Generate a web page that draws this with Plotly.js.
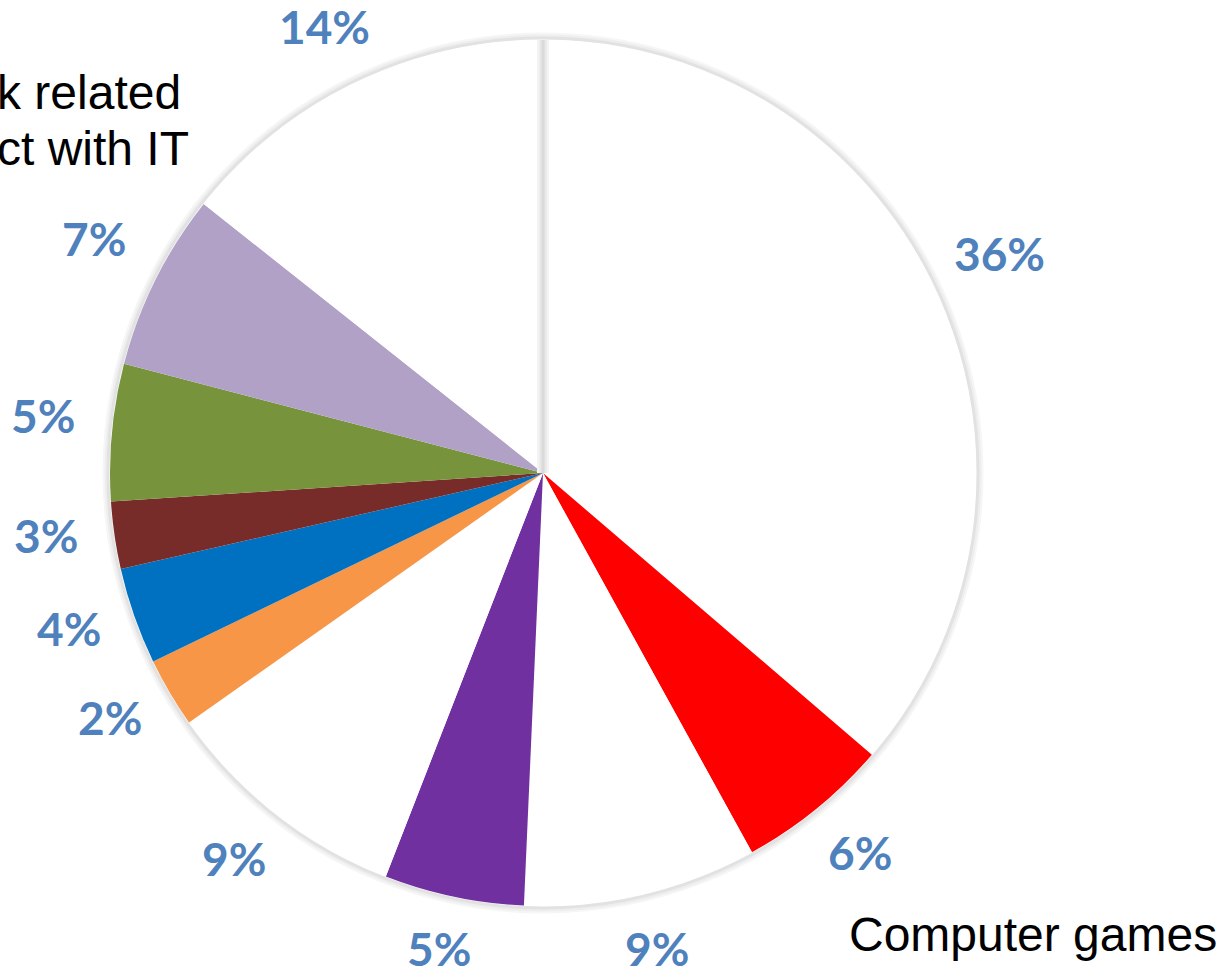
<!DOCTYPE html>
<html>
<head>
<meta charset="utf-8">
<script src="https://cdn.plot.ly/plotly-3.0.1.min.js"></script>
<style>
  html, body { margin: 0; padding: 0; background: #fff; }
  #chart { width: 1223px; height: 972px; }
</style>
</head>
<body>
<div id="chart"></div>
<script>
// slices, clockwise from 12 o'clock (sizes)
const categories = ['A', 'B', 'C', 'D', 'E', 'F', 'G', 'H', 'I', 'J', 'K'];
const sliceValues = [36.2, 5.7, 8.7, 5.2, 9.3, 2.6, 3.6, 2.5, 5.1, 6.6, 14.3];
const pctLabels = ['36%', '6%', '9%', '5%', '9%', '2%', '4%', '3%', '5%', '7%', '14%'];
const sliceColors = ['#FFFFFF', '#FF0000', '#FFFFFF', '#7030A0', '#FFFFFF', '#F79646',
                     '#0070C0', '#772C2A', '#77933C', '#B2A1C7', '#FFFFFF'];

const W = 1223, H = 972;
const cx = 543, cy = 473, R = 433;   // pie centre and radius in pixels
const labelDist = 502;

// percentage labels placed along the middle of each slice, kept inside the page
const total = sliceValues.reduce((a, b) => a + b, 0);
let cum = 0;
const pctAnnotations = sliceValues.map((v, i) => {
  const theta = 2 * Math.PI * (cum + v / 2) / total;
  cum += v;
  const px = cx + labelDist * Math.sin(theta);
  let py = cy - labelDist * Math.cos(theta) - 10;
  py = Math.max(26, Math.min(948, py));
  return {
    x: px / W, y: 1 - py / H, xref: 'paper', yref: 'paper',
    text: pctLabels[i], showarrow: false,
    xanchor: 'center', yanchor: 'middle',
    font: { family: 'Lato', size: 46, color: '#4F81BD', weight: 'bold' }
  };
});

const textFont = { family: 'Liberation Sans, Arial', size: 48, color: '#000' };

const trace = {
  type: 'pie',
  labels: categories,
  values: sliceValues,
  sort: false,
  direction: 'clockwise',
  rotation: 0,
  textinfo: 'none',
  hoverinfo: 'none',
  marker: { colors: sliceColors, line: { width: 0 } },
  domain: {
    x: [(cx - R) / W, (cx + R) / W],
    y: [1 - (cy + R) / H, 1 - (cy - R) / H]
  }
};

// soft rim: a few rings fading outward
function ring(extra, color, width) {
  return {
    type: 'circle', xref: 'paper', yref: 'paper', layer: 'below',
    x0: (cx - R - extra) / W, x1: (cx + R + extra) / W,
    y0: 1 - (cy + R + extra) / H, y1: 1 - (cy - R - extra) / H,
    line: { color: color, width: width }
  };
}
function seam(color, width) {
  return {
    type: 'line', xref: 'paper', yref: 'paper', layer: 'above',
    x0: cx / W, x1: cx / W, y0: 1 - cy / H, y1: 1 - (cy - R) / H,
    line: { color: color, width: width }
  };
}

const layout = {
  width: W, height: H,
  margin: { l: 0, r: 0, t: 0, b: 0 },
  paper_bgcolor: '#fff',
  showlegend: false,
  shapes: [
    ring(6, '#f6f6f6', 3),
    ring(4, '#eeeeee', 3),
    ring(2, '#e2e2e2', 3),
    seam('#f3f3f3', 12),
    seam('#e8e8e8', 7),
    seam('#dadada', 3)
  ],
  annotations: pctAnnotations.concat([
    { x: -5 / W, y: 1 - 92 / H, xref: 'paper', yref: 'paper', text: 'k related',
      showarrow: false, xanchor: 'left', yanchor: 'middle', font: textFont },
    { x: -5 / W, y: 1 - 149 / H, xref: 'paper', yref: 'paper', text: 'ct with IT',
      showarrow: false, xanchor: 'left', yanchor: 'middle', font: textFont },
    { x: 1219 / W, y: 1 - 934 / H, xref: 'paper', yref: 'paper', text: 'Computer games',
      showarrow: false, xanchor: 'right', yanchor: 'middle', font: textFont }
  ])
};

Plotly.newPlot('chart', [trace], layout, { displayModeBar: false, staticPlot: true });
</script>
</body>
</html>
